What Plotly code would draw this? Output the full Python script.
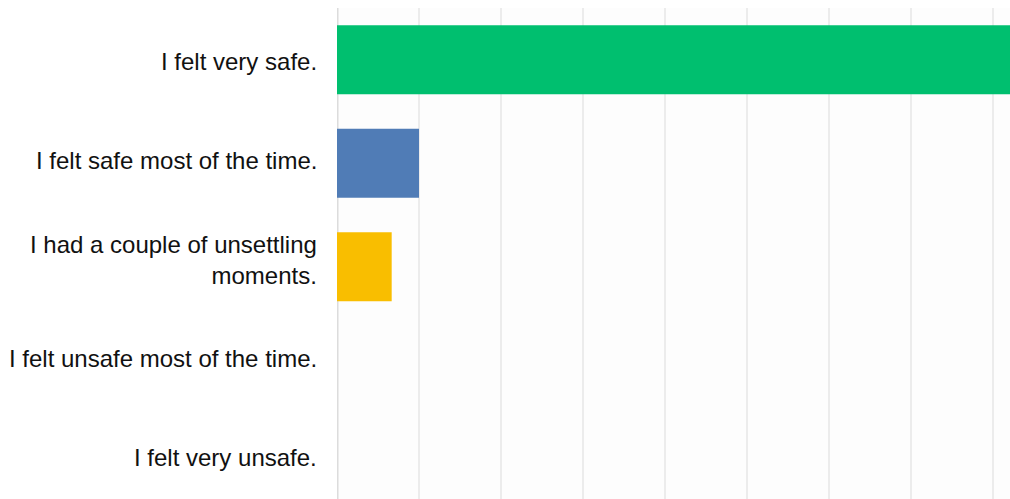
import plotly.graph_objects as go

# Survey answers and share of respondents (%)
answers = [
    "I felt very safe.",
    "I felt safe most of the time.",
    "I had a couple of unsettling<br>moments.",
    "I felt unsafe most of the time.",
    "I felt very unsafe.",
]
percent = [83.33, 10.0, 6.67, 0.0, 0.0]
bar_colors = ["#00BF6F", "#507CB6", "#F9BE00", "#7D3C98", "#E74C3C"]

W, H = 1010, 499
LEFT, TOP = 337, 8
slot_px = 103.5                      # vertical space per answer
plot_h = H - TOP
y_bottom = plot_h / slot_px - 0.5    # visible part of the category axis

fig = go.Figure()
fig.add_trace(go.Bar(
    y=list(range(len(answers))),
    x=percent,
    orientation="h",
    marker=dict(color=bar_colors, line=dict(width=0)),
    hoverinfo="skip",
))

# Right-aligned answer labels beside the axis
for i, label in enumerate(answers):
    fig.add_annotation(
        x=0, xref="paper", xanchor="right", xshift=-18,
        y=i, yref="y", yanchor="middle", yshift=4.5 * i - 2,
        text=label, showarrow=False, align="right",
        font=dict(family="Liberation Sans, Arial, sans-serif", size=24, color="#111111"),
    )

x_max = (W - LEFT) * 10 / 82.0

fig.update_layout(
    width=W, height=H, autosize=False,
    margin=dict(l=LEFT, r=0, t=TOP, b=0, pad=0),
    paper_bgcolor="white",
    plot_bgcolor="#fdfdfd",
    bargap=0.333,
    showlegend=False,
    xaxis=dict(
        range=[0, x_max], dtick=10, tick0=0,
        showgrid=True, gridcolor="#ececec", gridwidth=2,
        showticklabels=False, ticks="", zeroline=False,
        showline=False, fixedrange=True,
    ),
    yaxis=dict(
        range=[y_bottom, -0.5],
        showticklabels=False, ticks="", showgrid=False, zeroline=False,
        showline=False, fixedrange=True,
    ),
    shapes=[dict(
        type="line", xref="x", yref="paper",
        x0=0, x1=0, y0=0, y1=1,
        line=dict(color="#dcdcdc", width=3), layer="below",
    )],
)

fig.write_html("out.html", config={"displayModeBar": False})
